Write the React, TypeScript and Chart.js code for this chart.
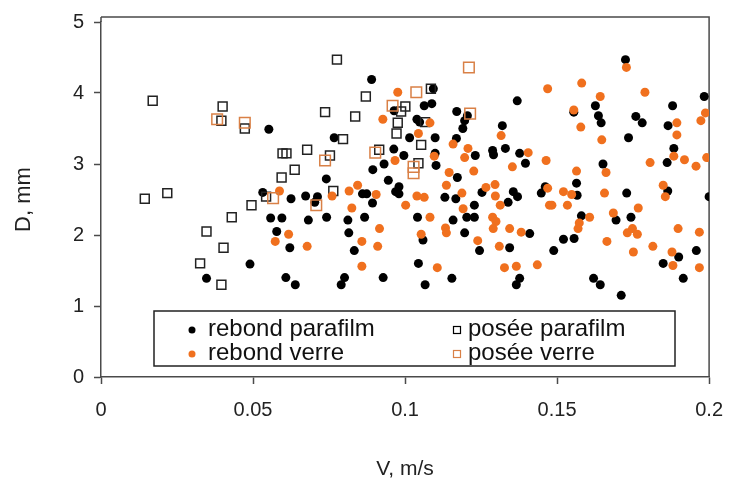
import React, { useEffect, useRef } from "react";
import { Chart, registerables } from "chart.js";

Chart.register(...registerables);

// ---- DATA ----
const xTicks = [0, 0.05, 0.1, 0.15, 0.2];
const yTicks = [0, 1, 2, 3, 4, 5];

const legendLabels = ["rebond parafilm", "posée parafilm", "rebond verre", "posée verre"];

const rebondParafilm: [number, number][] = [
  [0.049, 1.59], [0.0347, 1.39],
  [0.089, 4.19], [0.0964, 3.75], [0.0552, 3.49], [0.0767, 3.37], [0.0963, 3.21], [0.0996, 3.12],
  [0.0931, 3.0], [0.0894, 2.92], [0.0741, 2.79], [0.0945, 2.77], [0.098, 2.68],
  [0.0532, 2.6], [0.0625, 2.51], [0.0673, 2.55], [0.0712, 2.54], [0.0703, 2.46], [0.086, 2.58],
  [0.0874, 2.58], [0.0893, 2.45], [0.0969, 2.61], [0.098, 2.58], [0.0558, 2.24], [0.0595, 2.24],
  [0.0682, 2.21], [0.0742, 2.25], [0.0812, 2.21], [0.0867, 2.25], [0.0578, 2.05], [0.0815, 2.03],
  [0.0621, 1.82], [0.0833, 1.78], [0.0608, 1.4], [0.0639, 1.3], [0.0801, 1.4], [0.079, 1.3],
  [0.0928, 1.4],
  [0.1369, 3.89], [0.1093, 4.06], [0.1063, 3.82], [0.1088, 3.85], [0.117, 3.74], [0.1205, 3.68],
  [0.1039, 3.63], [0.1048, 3.59], [0.1196, 3.61], [0.119, 3.5], [0.132, 3.54], [0.1015, 3.37],
  [0.1099, 3.37], [0.1169, 3.36], [0.1231, 3.12], [0.1288, 3.19], [0.1291, 3.13], [0.133, 3.22],
  [0.1377, 3.15], [0.1396, 3.01], [0.1099, 3.15], [0.1102, 2.98], [0.1172, 2.81], [0.1253, 2.6],
  [0.1356, 2.61], [0.1461, 2.68],
  [0.1131, 2.53], [0.1167, 2.51], [0.137, 2.54], [0.1448, 2.59], [0.1339, 2.46], [0.1228, 2.42],
  [0.1041, 2.25], [0.1158, 2.21], [0.1203, 2.25], [0.1228, 2.25], [0.1196, 2.03], [0.141, 2.02],
  [0.1059, 1.93], [0.1245, 1.78], [0.1344, 1.82], [0.1489, 1.78], [0.1044, 1.6], [0.1066, 1.3],
  [0.1154, 1.39], [0.1377, 1.39], [0.1366, 1.3],
  [0.1725, 4.47], [0.1984, 3.95], [0.1626, 3.82], [0.188, 3.82], [0.1555, 3.73], [0.1636, 3.68],
  [0.1645, 3.58], [0.1759, 3.67], [0.178, 3.58], [0.1865, 3.54], [0.1735, 3.37], [0.1884, 3.22],
  [0.1862, 3.02], [0.1651, 3.0], [0.1564, 2.73], [0.1566, 2.56], [0.1729, 2.59], [0.1864, 2.62],
  [0.2, 2.54], [0.1694, 2.21], [0.1743, 2.25], [0.158, 2.27], [0.1521, 1.94], [0.1556, 1.95],
  [0.19, 1.69], [0.1958, 1.78], [0.1849, 1.6], [0.1915, 1.39], [0.162, 1.39], [0.1642, 1.3],
  [0.1711, 1.15],
];

const poseeParafilm: [number, number][] = [
  [0.017, 3.89], [0.04, 3.81], [0.0396, 3.61], [0.0473, 3.5], [0.0144, 2.51], [0.0218, 2.59],
  [0.0495, 2.42], [0.043, 2.25], [0.0347, 2.05], [0.0403, 1.82], [0.0326, 1.6], [0.0396, 1.3],
  [0.0776, 4.47], [0.0871, 3.95], [0.0987, 3.74], [0.0737, 3.73], [0.0836, 3.67], [0.0976, 3.58],
  [0.0972, 3.43], [0.0796, 3.35], [0.0678, 3.2], [0.0915, 3.2], [0.0597, 3.15], [0.061, 3.15],
  [0.0753, 3.12], [0.0637, 2.92], [0.0594, 2.81], [0.0764, 2.62], [0.0543, 2.54], [0.1085, 4.06],
  [0.1001, 3.81], [0.1066, 3.59], [0.1053, 3.27], [0.1044, 3.01],
];

const rebondVerre: [number, number][] = [
  [0.0976, 4.01], [0.0927, 3.63], [0.0967, 3.05], [0.0587, 2.62], [0.0816, 2.62], [0.0844, 2.7],
  [0.0905, 2.57], [0.076, 2.55], [0.1002, 2.42], [0.0825, 2.38], [0.0617, 2.01], [0.0573, 1.91],
  [0.0916, 2.09], [0.0678, 1.84], [0.0858, 1.91], [0.091, 1.84], [0.0858, 1.56],
  [0.1469, 4.06], [0.1082, 3.58], [0.1316, 3.4], [0.1044, 3.43], [0.1158, 3.28], [0.1207, 3.22],
  [0.1196, 3.09], [0.1405, 3.16], [0.1464, 3.05], [0.1353, 2.96], [0.1096, 3.11], [0.1145, 2.88],
  [0.1226, 2.9], [0.1136, 2.7], [0.1266, 2.67], [0.1296, 2.71], [0.1469, 2.66],
  [0.1039, 2.55], [0.1063, 2.53], [0.1187, 2.59], [0.1297, 2.55], [0.1475, 2.42], [0.1313, 2.42],
  [0.1191, 2.37], [0.1082, 2.25], [0.1288, 2.25], [0.1299, 2.19], [0.129, 2.09], [0.1133, 2.1],
  [0.1136, 2.03], [0.1344, 2.09], [0.1382, 2.04], [0.1053, 2.01], [0.1239, 1.92], [0.131, 1.84],
  [0.1106, 1.54], [0.1327, 1.54], [0.1366, 1.56], [0.1435, 1.58],
  [0.1728, 4.36], [0.1581, 4.14], [0.1642, 3.95], [0.1789, 4.01], [0.1555, 3.76], [0.1988, 3.72],
  [0.1973, 3.61], [0.1894, 3.58], [0.1894, 3.41], [0.1578, 3.52], [0.1647, 3.34], [0.1884, 3.11],
  [0.1919, 3.06], [0.1957, 2.97], [0.1992, 3.09], [0.1806, 3.02], [0.1661, 2.88], [0.1564, 2.9],
  [0.1521, 2.61], [0.1548, 2.57], [0.1656, 2.59], [0.1849, 2.7],
  [0.1483, 2.42], [0.1534, 2.42], [0.1856, 2.54], [0.1767, 2.38], [0.1685, 2.31], [0.1607, 2.25],
  [0.1573, 2.17], [0.1569, 2.09], [0.1731, 2.03], [0.1748, 2.09], [0.1764, 2.01], [0.1898, 2.09],
  [0.1968, 2.04], [0.1664, 1.91], [0.1751, 1.76], [0.1815, 1.84], [0.1878, 1.76], [0.1881, 1.57],
  [0.1968, 1.54],
];

const poseeVerre: [number, number][] = [
  [0.0382, 3.63], [0.0473, 3.58], [0.0959, 3.82], [0.0902, 3.16], [0.0737, 3.05], [0.0566, 2.52],
  [0.0708, 2.42], [0.121, 4.36], [0.1037, 4.01], [0.1214, 3.71], [0.1028, 2.96], [0.1028, 2.87],
];

// ---- STYLE ----
const BLACK = "#000000";
const ORANGE = "#f0701e";
const ORANGE_SQ = "#d98046";
const AXIS = "#4a4a4a";
const FONT = "'Liberation Sans', Arial, sans-serif";

const toPts = (arr: [number, number][]) => arr.map(([x, y]) => ({ x, y }));

const framePlugin = {
  id: "frame",
  beforeDatasetsDraw(chart: any) {
    const { ctx, chartArea } = chart;
    ctx.save();
    ctx.strokeStyle = AXIS;
    ctx.lineWidth = 1.5;
    ctx.beginPath();
    ctx.moveTo(chartArea.left, chartArea.top - 5);
    ctx.lineTo(chartArea.right, chartArea.top - 5);
    ctx.lineTo(chartArea.right, chartArea.bottom);
    ctx.moveTo(chartArea.left, chartArea.top - 5);
    ctx.lineTo(chartArea.left, chartArea.top);
    ctx.stroke();
    ctx.restore();
  },
};

const legendPlugin = {
  id: "insideLegend",
  afterDraw(chart: any) {
    const { ctx } = chart;
    const box = { x: 154, y: 311, w: 521, h: 55 };
    ctx.save();
    ctx.fillStyle = "#ffffff";
    ctx.fillRect(box.x, box.y, box.w, box.h);
    ctx.strokeStyle = "#222";
    ctx.lineWidth = 1.5;
    ctx.strokeRect(box.x, box.y, box.w, box.h);
    ctx.font = `24px ${FONT}`;
    ctx.textBaseline = "middle";
    ctx.fillStyle = "#111";
    const rows = [329, 353];
    const cols = [{ m: 192, t: 208 }, { m: 457, t: 468 }];
    const items = [
      { label: legendLabels[0], col: 0, row: 0, kind: "dot", color: BLACK },
      { label: legendLabels[1], col: 1, row: 0, kind: "sq", color: BLACK },
      { label: legendLabels[2], col: 0, row: 1, kind: "dot", color: ORANGE },
      { label: legendLabels[3], col: 1, row: 1, kind: "sq", color: ORANGE_SQ },
    ];
    for (const it of items) {
      const mx = cols[it.col].m;
      const my = rows[it.row] + 1;
      if (it.kind === "dot") {
        ctx.fillStyle = it.color;
        ctx.beginPath();
        ctx.arc(mx, my, 3.5, 0, Math.PI * 2);
        ctx.fill();
      } else {
        ctx.strokeStyle = it.color;
        ctx.lineWidth = 1.2;
        ctx.strokeRect(mx - 3.5, my - 3.5, 7, 7);
      }
      ctx.fillStyle = "#111";
      ctx.fillText(it.label, cols[it.col].t, rows[it.row]);
    }
    ctx.restore();
  },
};

export default function App() {
  const ref = useRef<HTMLCanvasElement | null>(null);

  useEffect(() => {
    document.body.style.margin = "0";
    const canvas = ref.current;
    if (!canvas) return;
    const chart = new Chart(canvas, {
      type: "scatter",
      data: {
        datasets: [
          {
            label: legendLabels[3],
            data: toPts(poseeVerre),
            pointStyle: "rect",
            pointRadius: 7.5,
            backgroundColor: "rgba(0,0,0,0)",
            borderColor: ORANGE_SQ,
            borderWidth: 1.5,
          },
          {
            label: legendLabels[2],
            data: toPts(rebondVerre),
            pointStyle: "circle",
            pointRadius: 4.5,
            backgroundColor: ORANGE,
            borderColor: ORANGE,
            borderWidth: 0,
          },
          {
            label: legendLabels[1],
            data: toPts(poseeParafilm),
            pointStyle: "rect",
            pointRadius: 6.3,
            backgroundColor: "rgba(0,0,0,0)",
            borderColor: "#222",
            borderWidth: 1.5,
          },
          {
            label: legendLabels[0],
            data: toPts(rebondParafilm),
            pointStyle: "circle",
            pointRadius: 4.5,
            backgroundColor: BLACK,
            borderColor: BLACK,
            borderWidth: 0,
          },
        ],
      },
      options: {
        animation: false,
        responsive: false,
        maintainAspectRatio: false,
        layout: { padding: { top: 17, right: 20, left: 0, bottom: 0 } },
        plugins: {
          legend: { display: false },
          tooltip: { enabled: false },
        },
        scales: {
          x: {
            type: "linear",
            min: 0,
            max: 0.2,
            afterFit: (s: any) => {
              s.height = 110;
            },
            afterBuildTicks: (s: any) => {
              s.ticks = xTicks.map((v) => ({ value: v }));
            },
            ticks: {
              padding: 14,
              color: "#222",
              font: { family: FONT, size: 20 },
              maxRotation: 0,
              callback: (v: any) => String(Number(Number(v).toFixed(2))),
            },
            grid: {
              color: "rgba(0,0,0,0)",
              drawOnChartArea: false,
              tickColor: AXIS,
              tickLength: 7,
              tickWidth: 1.5,
            },
            border: { display: true, color: AXIS, width: 1.5 },
            title: {
              display: true,
              text: "V, m/s",
              color: "#222",
              font: { family: FONT, size: 21 },
              padding: { top: 0, bottom: 5 },
            },
          },
          y: {
            type: "linear",
            min: 0,
            max: 5,
            afterFit: (s: any) => {
              s.width = 101;
            },
            afterBuildTicks: (s: any) => {
              s.ticks = yTicks.map((v) => ({ value: v }));
            },
            ticks: {
              padding: 10,
              color: "#222",
              font: { family: FONT, size: 20 },
            },
            grid: {
              color: "rgba(0,0,0,0)",
              drawOnChartArea: false,
              tickColor: AXIS,
              tickLength: 7,
              tickWidth: 1.5,
            },
            border: { display: true, color: AXIS, width: 1.5 },
            title: {
              display: true,
              text: "D, mm",
              color: "#222",
              font: { family: FONT, size: 22 },
              padding: { top: 11, bottom: 0 },
            },
          },
        },
      },
      plugins: [framePlugin, legendPlugin],
    });
    return () => chart.destroy();
  }, []);

  return (
    <div style={{ width: 737, height: 487, background: "#fff" }}>
      <canvas ref={ref} width={737} height={487} style={{ display: "block" }} />
    </div>
  );
}
